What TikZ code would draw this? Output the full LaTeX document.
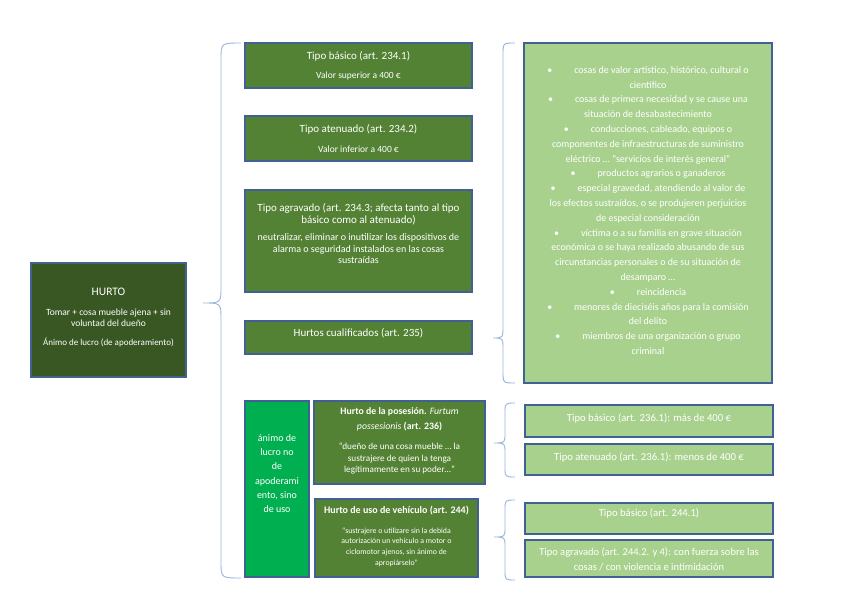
\documentclass[tikz,border=0pt]{standalone}
\usepackage{fontspec}
\setmainfont{Carlito}
\definecolor{dkg}{RGB}{56,87,35}
\definecolor{mdg}{RGB}{84,130,53}
\definecolor{brg}{RGB}{0,176,80}
\definecolor{ltg}{RGB}{169,209,142}
\definecolor{bord}{RGB}{65,96,150}
\definecolor{brc}{RGB}{150,178,222}
\newcommand\fs[2]{\fontsize{#1}{#2}\selectfont}
\newcommand\mybrace[7]{%
  \draw[bracel] (#1,#2) .. controls (#4,#2) .. (#4,#2+#7) -- (#4,#6-#7)
    .. controls (#4,#6) .. (#5,#6) .. controls (#4,#6) .. (#4,#6+#7)
    -- (#4,#3-#7) .. controls (#4,#3) .. (#1,#3);}
\begin{document}
\begin{tikzpicture}[x=1pt,y=-1pt,
  boxst/.style={draw=bord, line width=1.2pt, inner sep=0pt, outer sep=0pt, anchor=north west},
  dk/.style={boxst, fill=dkg},
  md/.style={boxst, fill=mdg},
  bg/.style={boxst, fill=brg},
  lt/.style={boxst, fill=ltg},
  txt/.style={text=white, align=center, inner sep=0pt},
  bracel/.style={draw=brc, line width=0.9pt}]
\useasboundingbox (0,0) rectangle (848,599);
% boxes
\node[dk, minimum width=155, minimum height=114] (hurto) at (31,263) {};
\node[md, minimum width=227, minimum height=45] (tb) at (245,43) {};
\node[md, minimum width=227, minimum height=45] (ta) at (245,116) {};
\node[md, minimum width=227, minimum height=102] (tg) at (245,190) {};
\node[md, minimum width=227, minimum height=33] (hc) at (245,321) {};
\node[bg, minimum width=64, minimum height=176] (an) at (245,401) {};
\node[md, minimum width=171, minimum height=83] (hp) at (314,401) {};
\node[md, minimum width=163, minimum height=78] (hu) at (315,499) {};
\node[lt, minimum width=248, minimum height=340] (bl) at (524,43) {};
\node[lt, minimum width=248, minimum height=32] (r1) at (525,405) {};
\node[lt, minimum width=248, minimum height=31] (r2) at (525,444) {};
\node[lt, minimum width=248, minimum height=31] (r3) at (525,503) {};
\node[lt, minimum width=248, minimum height=37] (r4) at (525,540) {};
% texts
\node[txt, font={\fs{11.5}{13}}] (t1) at (108.5,292) {HURTO};
\node[txt, font={\fs{9.5}{11.5}}] (t2) at (108.5,317.5) {Tomar + cosa mueble ajena + sin\\voluntad del dueño};
\node[txt, font={\fs{9}{11}}] (t3) at (108.5,342) {Ánimo de lucro (de apoderamiento)};
\node[txt, font={\fs{11}{13}}] (tb1) at (358.5,56) {Tipo básico (art. 234.1)};
\node[txt, font={\fs{9.5}{11}}] (tb2) at (358.5,76) {Valor superior a 400 €};
\node[txt, font={\fs{11}{13}}] (ta1) at (358.5,129) {Tipo atenuado (art. 234.2)};
\node[txt, font={\fs{9.5}{11}}] (ta2) at (358.5,149) {Valor inferior a 400 €};
\node[txt, font={\fs{11}{12.5}}] (tg1) at (358.5,214) {Tipo agravado (art. 234.3; afecta tanto al tipo\\básico como al atenuado)};
\node[txt, font={\fs{10}{11.5}}] (tg2) at (358.5,249) {neutralizar, eliminar o inutilizar los dispositivos de\\alarma o seguridad instalados en las cosas\\sustraídas};
\node[txt, font={\fs{11}{13}}] (hc1) at (358.5,333) {Hurtos cualificados (art. 235)};
\node[txt, font={\fs{10}{14.2}}] (an1) at (277,473.5) {ánimo de\\lucro no\\de\\apoderami\\ento, sino\\de uso};
\node[txt, font={\fs{9.8}{15}}] (hp1) at (399.5,419.5) {\textbf{Hurto de la posesión.} \textit{Furtum}\\\textit{possesionis} \textbf{(art. 236)}};
\node[txt, font={\fs{9.2}{11.5}}] (hp2) at (399.5,458.5) {“dueño de una cosa mueble … la\\sustrajere de quien la tenga\\legítimamente en su poder…”};
\node[txt, font={\fs{10}{12}}] (hu1) at (396.5,511) {\textbf{Hurto de uso de vehículo (art. 244)}};
\node[txt, font={\fs{7.8}{10.7}}] (hu2) at (396.5,547) {“sustrajere o utilizare sin la debida\\autorización un vehículo a motor o\\ciclomotor ajenos, sin ánimo de\\apropiárselo”};
\node[txt, font={\fs{10}{14.8}}] (bl1) at (648,210.5) {%
•\hspace{22pt}cosas de valor artístico, histórico, cultural o\\
científico\\
•\hspace{22pt}cosas de primera necesidad y se cause una\\
situación de desabastecimiento\\
•\hspace{22pt}conducciones, cableado, equipos o\\
componentes de infraestructuras de suministro\\
eléctrico … “servicios de interés general”\\
•\hspace{22pt}productos agrarios o ganaderos\\
•\hspace{22pt}especial gravedad, atendiendo al valor de\\
los efectos sustraídos, o se produjeren perjuicios\\
de especial consideración\\
•\hspace{22pt}víctima o a su familia en grave situación\\
económica o se haya realizado abusando de sus\\
circunstancias personales o de su situación de\\
desamparo …\\
•\hspace{22pt}reincidencia\\
•\hspace{22pt}menores de dieciséis años para la comisión\\
del delito\\
•\hspace{22pt}miembros de una organización o grupo\\
criminal};
\node[txt, font={\fs{10.7}{12}}] (r1t) at (649,418) {Tipo básico (art. 236.1): más de 400 €};
\node[txt, font={\fs{10.7}{12}}] (r2t) at (649,457) {Tipo atenuado (art. 236.1): menos de 400 €};
\node[txt, font={\fs{10.7}{12}}] (r3t) at (649,513) {Tipo básico (art. 244.1)};
\node[txt, font={\fs{10.5}{15}}] (r4t) at (649,559.5) {Tipo agravado (art. 244.2. y 4): con fuerza sobre las\\cosas / con violencia e intimidación};
% braces
\mybrace{241}{43}{578}{221}{203}{303}{17}
\mybrace{515}{43}{383}{503}{493}{338}{12}
\mybrace{515}{403}{477}{505}{494}{443}{10}
\mybrace{515}{500}{580}{505}{494}{537}{10}
\end{tikzpicture}
\end{document}
